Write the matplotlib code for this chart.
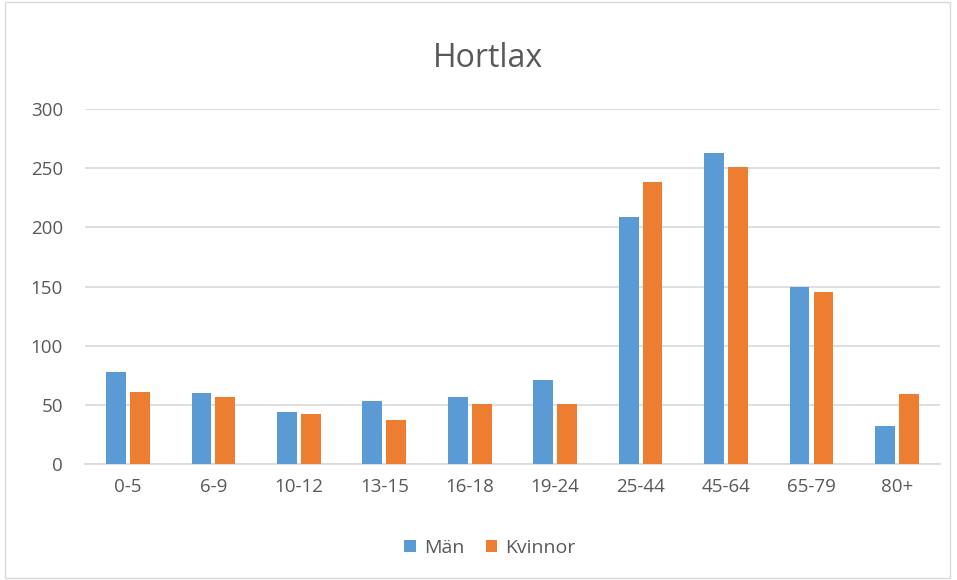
import matplotlib
matplotlib.use("Agg")
import matplotlib.pyplot as plt
import numpy as np
from matplotlib.patches import Rectangle

# data
categories = ["0-5", "6-9", "10-12", "13-15", "16-18", "19-24", "25-44", "45-64", "65-79", "80+"]
man = [78, 60, 44, 53, 57, 71, 209, 263, 150, 32]
kvinnor = [61, 57, 42, 37, 51, 51, 238, 251, 145, 59]
yticks = [0, 50, 100, 150, 200, 250, 300]

plt.rcParams['font.family'] = ['Open Sans', 'DejaVu Sans']
text_col = "#595959"

fig = plt.figure(figsize=(9.57, 5.8), dpi=100)
ax = fig.add_axes([0.089, 0.2, 0.893, 0.612])

x = np.arange(len(categories))
w = 0.23
ax.bar(x - 0.14, man, w, color="#5B9BD5", label="Män", zorder=3)
ax.bar(x + 0.14, kvinnor, w, color="#ED7D31", label="Kvinnor", zorder=3)

ax.set_xlim(-0.5, len(categories) - 0.5)
ax.set_ylim(0, 300)
ax.set_yticks(yticks)
ax.set_xticks(x)
ax.set_xticklabels(categories)
ax.yaxis.grid(True, color="#D9D9D9", linewidth=1.2, zorder=0)
ax.tick_params(axis="both", length=0, labelsize=13.5, colors=text_col)
ax.tick_params(axis="x", pad=10)
ax.tick_params(axis="y", pad=16)
for s in ["top", "right", "left"]:
    ax.spines[s].set_visible(False)
ax.spines["bottom"].set_color("#D9D9D9")
ax.spines["bottom"].set_linewidth(1.2)

fig.text(0.51, 0.8845, "Hortlax", ha="center", va="baseline", fontsize=23, color=text_col)

fig.legend(loc="center", bbox_to_anchor=(0.512, 0.055), ncol=2, frameon=False,
           fontsize=14, handlelength=0.6, handleheight=0.6, handletextpad=0.4,
           columnspacing=1.1, labelcolor=text_col)

# thin frame round the chart
fig.patches.append(Rectangle((0.005, 0.003), 0.988, 0.994, transform=fig.transFigure,
                             fill=False, edgecolor="#D9D9D9", linewidth=1))

fig.savefig("out.png", dpi=100)
